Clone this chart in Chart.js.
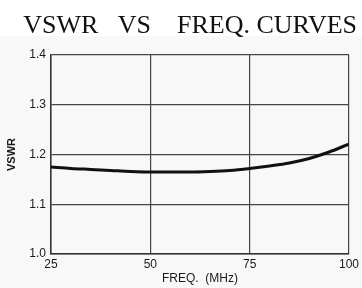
<!DOCTYPE html>
<html>
<head>
<meta charset="utf-8">
<script src="https://cdn.jsdelivr.net/npm/chart.js@4/dist/chart.umd.min.js"></script>
<style>
  html, body { margin: 0; padding: 0; }
  body { background: linear-gradient(#ffffff 0, #ffffff 36px, #f8f8f8 36px); }
  #wrap { width: 362px; height: 288px; }
</style>
</head>
<body>
<div id="wrap"><canvas id="vswr" width="362" height="288"></canvas></div>
<script>
// values
const freqs = [25, 30, 35, 40, 45, 50, 55, 60, 65, 70, 75, 80, 85, 90, 95, 100];
const vswr = [1.175, 1.172, 1.170, 1.168, 1.166, 1.165, 1.165, 1.165, 1.166, 1.168, 1.172, 1.177, 1.183, 1.192, 1.205, 1.221];
const xTicks = [25, 50, 75, 100];
const yTicks = ["1.0", "1.1", "1.2", "1.3", "1.4"];

const gridColor = "#444";
const tickFont = { family: "Liberation Sans", size: 12 };

const ctx = document.getElementById("vswr");
new Chart(ctx, {
    type: "line",
    data: {
        datasets: [
            {
                label: "VSWR",
                data: freqs.map((f, i) => ({ x: f, y: vswr[i] })),
                borderColor: "#111",
                borderWidth: 3,
                pointRadius: 0,
                cubicInterpolationMode: "monotone",
                fill: false
            }
        ]
    },
    options: {
        responsive: false,
        animation: false,
        layout: { padding: { left: 0, right: 5, top: 0, bottom: 0 } },
        plugins: {
            legend: { display: false },
            tooltip: { enabled: false },
            title: {
                display: true,
                text: "VSWR   VS    FREQ. CURVES",
                align: "end",
                color: "#111",
                font: { family: "Liberation Serif", size: 26, weight: "normal" },
                padding: { top: 11, bottom: 12.8 }
            }
        },
        scales: {
            x: {
                type: "linear",
                min: xTicks[0],
                max: xTicks[xTicks.length - 1],
                afterBuildTicks: (scale) => { scale.ticks = xTicks.map(v => ({ value: v })); },
                afterFit: (scale) => { scale.height = 34; },
                ticks: { color: "#1a1a1a", font: tickFont, padding: 3, maxRotation: 0 },
                grid: { color: gridColor, lineWidth: 1.2, drawTicks: false },
                border: { color: "#333", width: 1.5 },
                title: {
                    display: true,
                    text: "FREQ.  (MHz)",
                    color: "#1a1a1a",
                    font: { family: "Liberation Sans", size: 12 },
                    padding: { top: 0, bottom: 2 }
                }
            },
            y: {
                min: 1.0,
                max: 1.4,
                afterBuildTicks: (scale) => { scale.ticks = yTicks.map(v => ({ value: parseFloat(v) })); },
                afterFit: (scale) => { scale.width = 51; },
                ticks: {
                    color: "#1a1a1a",
                    font: tickFont,
                    padding: 5,
                    callback: (v) => yTicks.find(t => parseFloat(t) === v)
                },
                grid: { color: gridColor, lineWidth: 1.2, drawTicks: false },
                border: { color: "#333", width: 1.5 },
                title: {
                    display: true,
                    text: "VSWR",
                    color: "#1a1a1a",
                    font: { family: "Liberation Sans", size: 11, weight: "bold" },
                    padding: { top: 5.4, bottom: 0 }
                }
            }
        }
    }
});
</script>
</body>
</html>
